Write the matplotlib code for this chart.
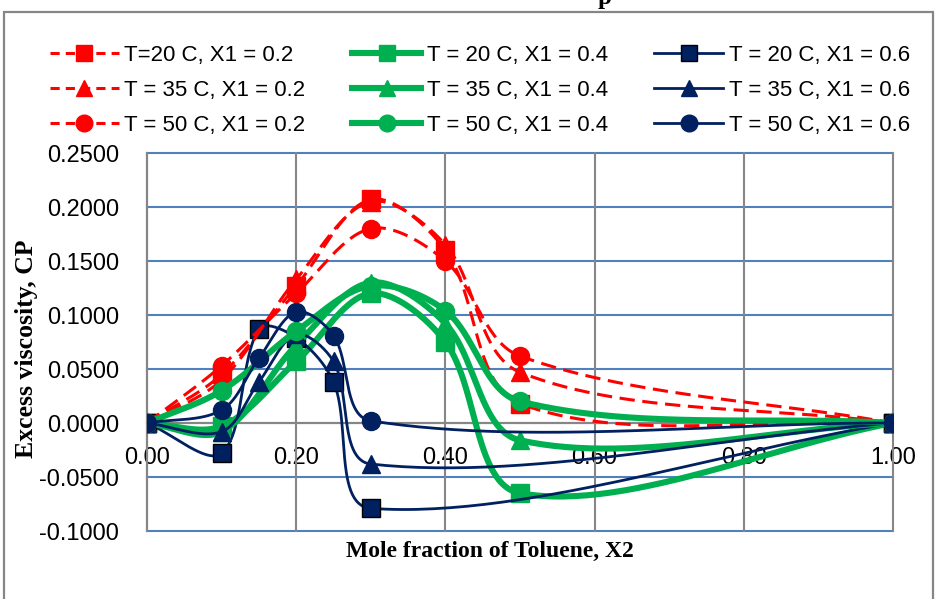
import numpy as np
import matplotlib.pyplot as plt
from matplotlib.lines import Line2D
from matplotlib.patches import Rectangle

# mole fraction of toluene for each group of runs
x2_a = [0.0, 0.1, 0.2, 0.3, 0.4, 0.5, 1.0]   # X1 = 0.2 and X1 = 0.4
x2_b = [0.0, 0.1, 0.15, 0.2, 0.25, 0.3, 1.0]  # X1 = 0.6

# excess viscosity (cP), X1 = 0.2
red_20 = [0.0, 0.045, 0.127, 0.207, 0.160, 0.018, 0.0]
red_35 = [0.0, 0.040, 0.133, 0.205, 0.165, 0.047, 0.0]
red_50 = [0.0, 0.053, 0.120, 0.180, 0.150, 0.062, 0.0]

# X1 = 0.4
green_20 = [0.0, -0.003, 0.057, 0.120, 0.075, -0.065, 0.0]
green_35 = [0.0, -0.008, 0.072, 0.130, 0.092, -0.016, 0.0]
green_50 = [0.0, 0.030, 0.085, 0.127, 0.104, 0.020, 0.0]

# X1 = 0.6
navy_20 = [0.0, -0.028, 0.087, 0.079, 0.038, -0.079, 0.0]
navy_35 = [0.0, -0.008, 0.038, 0.082, 0.057, -0.038, 0.0]
navy_50 = [0.0, 0.012, 0.060, 0.103, 0.081, 0.002, 0.0]

yticks = [-0.10, -0.05, 0.0, 0.05, 0.10, 0.15, 0.20, 0.25]
xticks = [0.0, 0.2, 0.4, 0.6, 0.8, 1.0]

RED, GREEN, NAVY = '#FF0000', '#00B050', '#002060'
GRID_BLUE, GREY = '#4F81BD', '#868686'
SX, SY = 746.0, 1080.0  # pixels per data unit, used for the smoothing


def smooth(x, y, n=60):
    # bezier smoothing like a spreadsheet "smoothed line"
    p = np.column_stack([np.array(x) * SX, np.array(y) * SY])
    m = len(p)
    out = [p[0]]
    for i in range(m - 1):
        p0 = p[i - 1] if i > 0 else p[i]
        p1, p2 = p[i], p[i + 1]
        p3 = p[i + 2] if i + 2 < m else p[i + 1]
        d01 = np.hypot(*(p1 - p0))
        d12 = np.hypot(*(p2 - p1))
        d23 = np.hypot(*(p3 - p2))
        f1 = d12 / (d01 + d12) if d01 + d12 > 0 else 0
        f2 = d12 / (d12 + d23) if d12 + d23 > 0 else 0
        c1 = p1 + (p2 - p0) * f1 / 3.0
        c2 = p2 - (p3 - p1) * f2 / 3.0
        t = np.linspace(0, 1, n)[1:, None]
        seg = ((1 - t) ** 3) * p1 + 3 * ((1 - t) ** 2) * t * c1 + 3 * (1 - t) * t ** 2 * c2 + t ** 3 * p2
        out.extend(seg)
    out = np.array(out)
    return out[:, 0] / SX, out[:, 1] / SY


fig = plt.figure(figsize=(9.36, 5.99), dpi=100)
W, H = 936.0, 599.0
ax = fig.add_axes([147 / W, 1 - 531 / H, (893 - 147) / W, (531 - 153) / H])

# chart border
fig.patches.append(Rectangle((4 / W, -0.05), (933 - 4) / W, 1.05 - 12 / H, transform=fig.transFigure,
                             fill=False, edgecolor=GREY, linewidth=1.6))

# series in the order they are plotted
series = [
    (x2_a, red_20, RED, 's', '--', 2.2, 'T=20 C, X1 = 0.2'),
    (x2_a, green_20, GREEN, 's', '-', 4.4, 'T = 20 C, X1 = 0.4'),
    (x2_b, navy_20, NAVY, 's', '-', 2.0, 'T = 20 C, X1 = 0.6'),
    (x2_a, red_35, RED, '^', '--', 2.2, 'T = 35 C, X1 = 0.2'),
    (x2_a, green_35, GREEN, '^', '-', 4.4, 'T = 35 C, X1 = 0.4'),
    (x2_b, navy_35, NAVY, '^', '-', 2.0, 'T = 35 C, X1 = 0.6'),
    (x2_a, red_50, RED, 'o', '--', 2.2, 'T = 50 C, X1 = 0.2'),
    (x2_a, green_50, GREEN, 'o', '-', 4.4, 'T = 50 C, X1 = 0.4'),
    (x2_b, navy_50, NAVY, 'o', '-', 2.0, 'T = 50 C, X1 = 0.6'),
]

handles = {}
for k, (xs, ys, col, mk, ls, lw, lab) in enumerate(series):
    sx, sy = smooth(xs, ys)
    edge = 'black' if (col == NAVY and mk == 's') else col
    dash = (5, 2.5) if ls == '--' else None
    line_kw = dict(color=col, linewidth=lw, zorder=3 + k)
    if dash:
        ax.plot(sx, sy, dashes=dash, **line_kw)
    else:
        ax.plot(sx, sy, **line_kw)
    ax.plot(xs, ys, linestyle='none', marker=mk, markersize=13, markerfacecolor=col,
            markeredgecolor=edge, markeredgewidth=1.0, zorder=3 + k)
    h = Line2D([], [], color=col, linewidth=lw, marker=mk, markersize=12,
               markerfacecolor=col, markeredgecolor=edge, markeredgewidth=1.0)
    if dash:
        h.set_dashes((3, 2))
    handles[lab] = h

ax.set_xlim(0, 1.0)
ax.set_ylim(-0.1, 0.25)
ax.set_xticks(xticks)
ax.set_yticks(yticks)
ax.set_xticklabels([f'{v:.2f}' for v in xticks])
ax.set_yticklabels([f'{v:.4f}' for v in yticks])
ax.set_axisbelow(True)

for s in ['top', 'right']:
    ax.spines[s].set_visible(False)
ax.spines['bottom'].set_position(('data', 0))
ax.spines['bottom'].set_color(GREY)
ax.spines['bottom'].set_linewidth(1.6)
ax.spines['left'].set_color(GREY)
ax.spines['left'].set_linewidth(1.6)

for v in yticks:
    if v != 0:
        ax.axhline(v, color=GRID_BLUE, linewidth=1.5, zorder=0.5, clip_on=False)
for v in xticks[1:]:
    ax.axvline(v, color=GREY, linewidth=1.5, zorder=0.6, clip_on=False)

ax.tick_params(axis='both', length=0)
ax.tick_params(axis='x', pad=17)
ax.tick_params(axis='y', pad=20)
for t in ax.get_xticklabels() + ax.get_yticklabels():
    t.set_fontfamily('Liberation Sans')
    t.set_fontsize(17)

fig.text(490 / W, 1 - 551 / H, 'Mole fraction of Toluene, X2', ha='center', va='center',
         family='Liberation Serif', weight='bold', size=17)
fig.text(27 / W, 1 - 349 / H, 'Excess viscosity, CP', ha='center', va='center', rotation=90,
         family='Liberation Serif', weight='bold', size=18.5)
fig.text(605 / W, 1 - 4 / H, 'p', ha='center', va='baseline',
         family='Liberation Serif', weight='bold', size=18)

order = ['T=20 C, X1 = 0.2', 'T = 35 C, X1 = 0.2', 'T = 50 C, X1 = 0.2',
         'T = 20 C, X1 = 0.4', 'T = 35 C, X1 = 0.4', 'T = 50 C, X1 = 0.4',
         'T = 20 C, X1 = 0.6', 'T = 35 C, X1 = 0.6', 'T = 50 C, X1 = 0.6']
fig.legend([handles[o] for o in order], order, ncol=3, loc='upper left',
           bbox_to_anchor=(50 / W, 1 - 45 / H), bbox_transform=fig.transFigure,
           frameon=False, borderpad=0, borderaxespad=0, handlelength=3.1, handletextpad=0.25,
           columnspacing=2.1, labelspacing=0.62,
           prop={'family': 'Liberation Sans', 'size': 16})

fig.savefig('out.png', dpi=100)
